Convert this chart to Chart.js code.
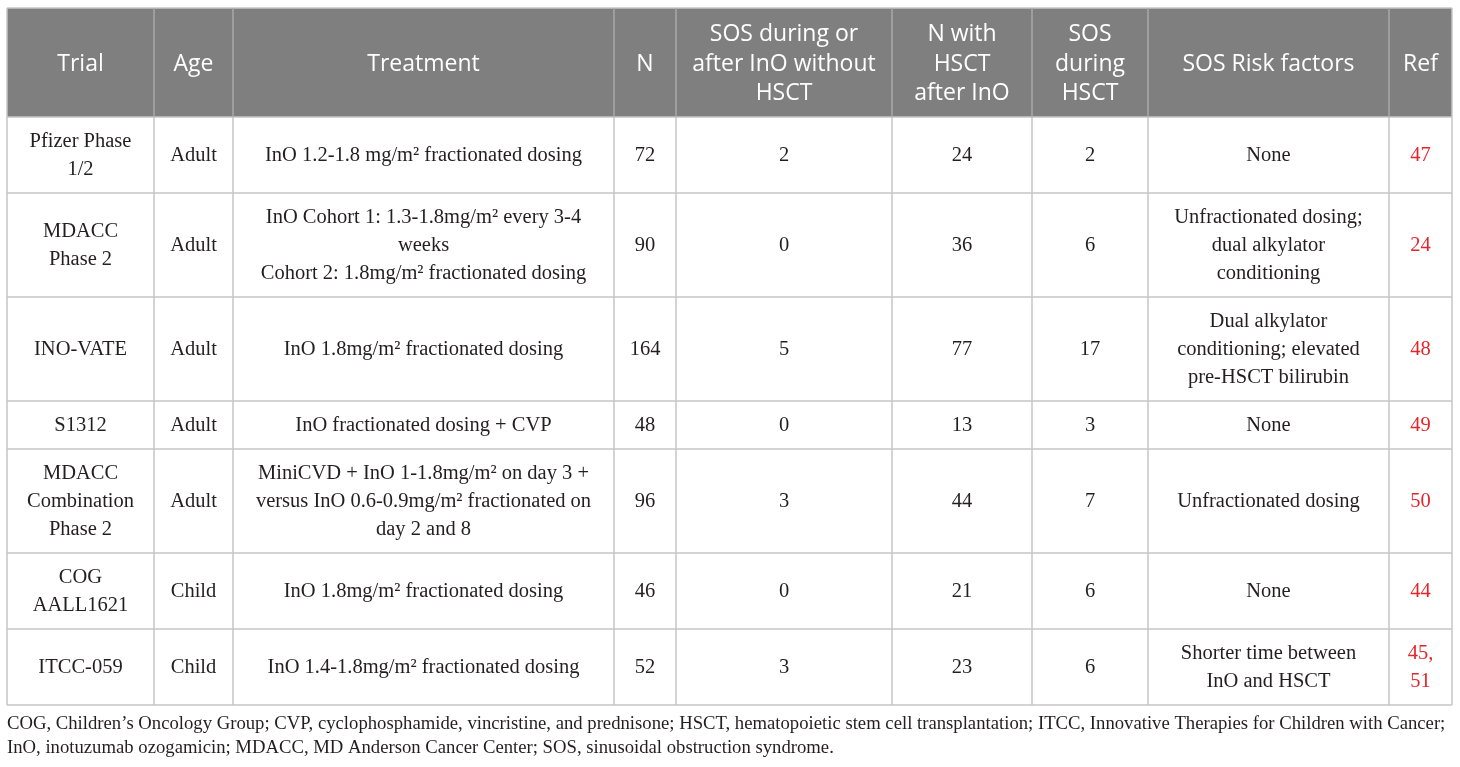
<!DOCTYPE html>
<html>
<head>
<meta charset="utf-8">
<script src="https://cdn.jsdelivr.net/npm/chart.js@4/dist/chart.umd.min.js"></script>
<style>
  html, body { margin: 0; padding: 0; background: #fff; }
  #wrap { width: 1460px; height: 767px; position: relative; }
</style>
</head>
<body>
<div id="wrap"><canvas id="table"></canvas></div>
<script>
// table content
const headers = [
    ['Trial'], ['Age'], ['Treatment'], ['N'],
    ['SOS during or', 'after InO without', 'HSCT'],
    ['N with', 'HSCT', 'after InO'],
    ['SOS', 'during', 'HSCT'],
    ['SOS Risk factors'], ['Ref']
];

const trials = [
    ['Pfizer Phase', '1/2'],
    ['MDACC', 'Phase 2'],
    ['INO-VATE'],
    ['S1312'],
    ['MDACC', 'Combination', 'Phase 2'],
    ['COG', 'AALL1621'],
    ['ITCC-059']
];

const ages = ['Adult', 'Adult', 'Adult', 'Adult', 'Adult', 'Child', 'Child'];

const treatments = [
    ['InO 1.2-1.8 mg/m² fractionated dosing'],
    ['InO Cohort 1: 1.3-1.8mg/m² every 3-4', 'weeks', 'Cohort 2: 1.8mg/m² fractionated dosing'],
    ['InO 1.8mg/m² fractionated dosing'],
    ['InO fractionated dosing + CVP'],
    ['MiniCVD + InO 1-1.8mg/m² on day 3 +', 'versus InO 0.6-0.9mg/m² fractionated on', 'day 2 and 8'],
    ['InO 1.8mg/m² fractionated dosing'],
    ['InO 1.4-1.8mg/m² fractionated dosing']
];

const nPatients = [72, 90, 164, 48, 96, 46, 52];
const sosWithoutHsct = [2, 0, 5, 0, 3, 0, 3];
const nWithHsct = [24, 36, 77, 13, 44, 21, 23];
const sosDuringHsct = [2, 6, 17, 3, 7, 6, 6];

const riskFactors = [
    ['None'],
    ['Unfractionated dosing;', 'dual alkylator', 'conditioning'],
    ['Dual alkylator', 'conditioning; elevated', 'pre-HSCT bilirubin'],
    ['None'],
    ['Unfractionated dosing'],
    ['None'],
    ['Shorter time between', 'InO and HSCT']
];

const refs = [['47'], ['24'], ['48'], ['49'], ['50'], ['44'], ['45,', '51']];

const footnote = [
    'COG, Children\u2019s Oncology Group; CVP, cyclophosphamide, vincristine, and prednisone; HSCT, hematopoietic stem cell transplantation; ITCC, Innovative Therapies for Children with Cancer;',
    'InO, inotuzumab ozogamicin; MDACC, MD Anderson Cancer Center; SOS, sinusoidal obstruction syndrome.'
];

// layout (relative widths / heights)
const colWidths = [147, 79, 381, 62, 216, 140, 116, 241, 63];
const rowHeights = [109, 76, 104, 104, 48, 104, 76, 76];

const colEdges = [0];
colWidths.forEach(w => colEdges.push(colEdges[colEdges.length - 1] + w));
const rowEdges = [0];
rowHeights.forEach(h => rowEdges.push(rowEdges[rowEdges.length - 1] + h));

function bodyRow(i){
    return [
        trials[i], [ages[i]], treatments[i], [String(nPatients[i])],
        [String(sosWithoutHsct[i])], [String(nWithHsct[i])], [String(sosDuringHsct[i])],
        riskFactors[i], refs[i]
    ];
}

const tablePlugin = {
    id: 'tablePlugin',
    afterDraw(chart){
        const ctx = chart.ctx;
        const x = chart.scales.x;
        const y = chart.scales.y;
        const X = v => x.getPixelForValue(v);
        const Y = v => y.getPixelForValue(v);

        ctx.save();

        // header background
        ctx.fillStyle = '#7f7f7f';
        ctx.fillRect(X(0), Y(0), X(colEdges[colEdges.length - 1]) - X(0), Y(rowEdges[1]) - Y(0));

        // grid lines
        ctx.lineWidth = 1.5;
        ctx.strokeStyle = '#c6c6c6';
        for(let r = 0; r < rowEdges.length; r++){
            ctx.beginPath();
            ctx.moveTo(X(0), Y(rowEdges[r]));
            ctx.lineTo(X(colEdges[colEdges.length - 1]), Y(rowEdges[r]));
            ctx.stroke();
        }
        for(let c = 0; c < colEdges.length; c++){
            ctx.strokeStyle = (c === 0 || c === colEdges.length - 1) ? '#c6c6c6' : '#a8a8a8';
            ctx.beginPath();
            ctx.moveTo(X(colEdges[c]), Y(0));
            ctx.lineTo(X(colEdges[c]), Y(rowEdges[1]));
            ctx.stroke();
            ctx.strokeStyle = '#c6c6c6';
            ctx.beginPath();
            ctx.moveTo(X(colEdges[c]), Y(rowEdges[1]));
            ctx.lineTo(X(colEdges[c]), Y(rowEdges[rowEdges.length - 1]));
            ctx.stroke();
        }

        ctx.textAlign = 'center';
        ctx.textBaseline = 'middle';

        function cellText(lines, c, r, lh, dy){
            const cx = (X(colEdges[c]) + X(colEdges[c + 1])) / 2;
            const cy = (Y(rowEdges[r]) + Y(rowEdges[r + 1])) / 2 + dy;
            lines.forEach((t, i) => {
                ctx.fillText(t, cx, cy + (i - (lines.length - 1) / 2) * lh);
            });
        }

        // header
        ctx.font = '23px "Open Sans"';
        ctx.fillStyle = '#ffffff';
        headers.forEach((h, c) => cellText(h, c, 0, 29.5, 1.5));

        // body
        ctx.font = '20.5px "Liberation Serif"';
        for(let i = 0; i < trials.length; i++){
            bodyRow(i).forEach((cell, c) => {
                ctx.fillStyle = (c === 8) ? '#e3262b' : '#231f20';
                cellText(cell, c, i + 1, 28, 1);
            });
        }

        // footnote
        ctx.textAlign = 'left';
        ctx.fillStyle = '#231f20';
        ctx.font = '18.7px "Liberation Serif"';
        const bottom = Y(rowEdges[rowEdges.length - 1]);
        footnote.forEach((t, i) => ctx.fillText(t, X(0), bottom + 19 + i * 24));

        ctx.restore();
    }
};

new Chart(document.getElementById('table'), {
    type: 'scatter',
    data: { datasets: [] },
    options: {
        responsive: true,
        maintainAspectRatio: false,
        animation: false,
        events: [],
        layout: { padding: { left: 7, right: 8, top: 8, bottom: 62 } },
        plugins: { legend: { display: false }, tooltip: { enabled: false } },
        scales: {
            x: { type: 'linear', display: false, min: 0, max: colEdges[colEdges.length - 1] },
            y: { type: 'linear', display: false, reverse: true, min: 0, max: rowEdges[rowEdges.length - 1] }
        }
    },
    plugins: [tablePlugin]
});
</script>
</body>
</html>
